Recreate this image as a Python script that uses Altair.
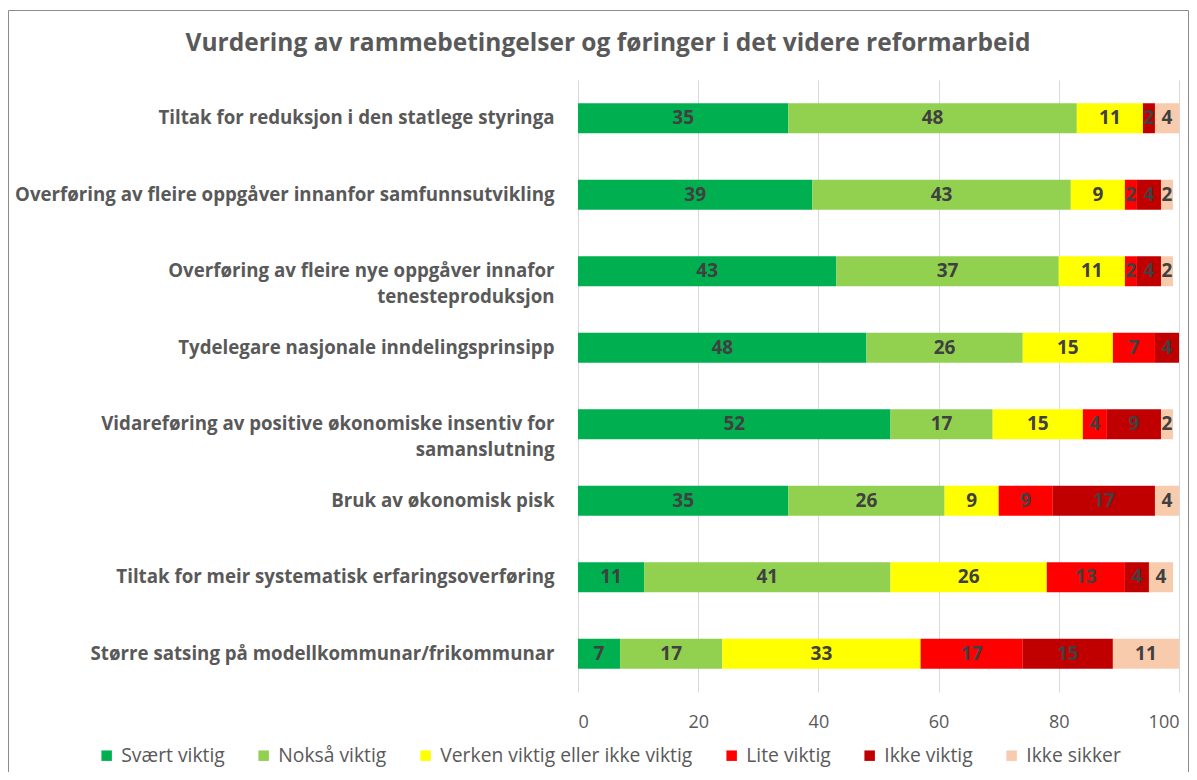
import altair as alt
import pandas as pd

categories = [
    "Tiltak for reduksjon i den statlege styringa",
    "Overføring av fleire oppgåver innanfor samfunnsutvikling",
    "Overføring av fleire nye oppgåver innafor|tenesteproduksjon",
    "Tydelegare nasjonale inndelingsprinsipp",
    "Vidareføring av positive økonomiske insentiv for|samanslutning",
    "Bruk av økonomisk pisk",
    "Tiltak for meir systematisk erfaringsoverføring",
    "Større satsing på modellkommunar/frikommunar",
]
series_names = ["Svært viktig", "Nokså viktig", "Verken viktig eller ikke viktig",
                "Lite viktig", "Ikke viktig", "Ikke sikker"]
svaert_viktig = [35, 39, 43, 48, 52, 35, 11, 7]
noksa_viktig = [48, 43, 37, 26, 17, 26, 41, 17]
verken = [11, 9, 11, 15, 15, 9, 26, 33]
lite_viktig = [0, 2, 2, 7, 4, 9, 13, 17]
ikke_viktig = [2, 4, 4, 4, 9, 17, 4, 15]
ikke_sikker = [4, 2, 2, 0, 2, 4, 4, 11]
colors = ["#00B050", "#92D050", "#FFFF00", "#FF0000", "#C00000", "#F8CBAD"]
x_ticks = [0, 20, 40, 60, 80, 100]
title = "Vurdering av rammebetingelser og føringer i det videre reformarbeid"

all_series = [svaert_viktig, noksa_viktig, verken, lite_viktig, ikke_viktig, ikke_sikker]
rows = []
for si, (name, vals) in enumerate(zip(series_names, all_series)):
    for cat, v in zip(categories, vals):
        rows.append({"cat": cat, "series": name, "value": v, "idx": si})
df = pd.DataFrame(rows)

FONT = "Open Sans"
GRAY = "#595959"

y_enc = alt.Y(
    "cat:N", sort=categories, title=None,
    scale=alt.Scale(paddingInner=0.608, paddingOuter=0.304),
    axis=alt.Axis(labelExpr="split(datum.label, '|')", labelFontWeight="bold",
                  labelFontSize=18.7, labelColor=GRAY, labelFont=FONT, labelLimit=700,
                  labelPadding=24, labelLineHeight=26, ticks=False, domain=False,
                  grid=False, labelAlign="right"),
)
x_scale = alt.Scale(domain=[0, 100], nice=False)

bars = alt.Chart(df).mark_bar().encode(
    y=y_enc,
    x=alt.X("value:Q", stack="zero", scale=x_scale, title=None,
            axis=alt.Axis(values=x_ticks, grid=True, gridColor="#D9D9D9", domain=False,
                          ticks=False, labelFontSize=18, labelColor=GRAY, labelFont=FONT,
                          labelPadding=21)),
    color=alt.Color("series:N", sort=series_names,
                    scale=alt.Scale(domain=series_names, range=colors),
                    legend=alt.Legend(orient="none", legendX=-481, legendY=666,
                                      direction="horizontal", columns=6, title=None,
                                      symbolType="square", symbolSize=110,
                                      symbolStrokeWidth=0, labelFontSize=19.3,
                                      labelColor=GRAY, labelFont=FONT, labelOffset=5,
                                      columnPadding=29, padding=0, labelLimit=400)),
    order=alt.Order("idx:Q"),
)

labels = alt.Chart(df).transform_stack(
    stack="value", groupby=["cat"], as_=["x0", "x1"], sort=[alt.SortField("idx")]
).transform_calculate(
    mid="(datum.x0 + datum.x1) / 2"
).transform_filter("datum.value > 0").mark_text(
    font=FONT, fontSize=19, fontWeight="bold", color="#404040"
).encode(
    y=alt.Y("cat:N", sort=categories),
    x=alt.X("mid:Q", scale=x_scale),
    text=alt.Text("value:Q"),
)

frame = alt.Chart(pd.DataFrame({"a": [0]})).mark_rect(
    fillOpacity=0, stroke="#8C8C8C", strokeWidth=1
).encode(
    x=alt.value(-569.5), x2=alt.value(610.5), y=alt.value(-69.5), y2=alt.value(700)
)

title_mark = alt.Chart(pd.DataFrame({"t": [title]})).mark_text(
    font=FONT, fontSize=24.5, fontWeight="bold", color=GRAY, align="center",
    baseline="alphabetic"
).encode(
    x=alt.value(30), y=alt.value(-29), text="t:N"
)

chart = alt.layer(frame, title_mark, bars, labels).properties(
    width=601, height=612,
    autosize=alt.AutoSizeParams(type="none"),
    padding={"left": 570, "top": 72, "right": 10, "bottom": 80},
).configure_view(stroke=None)

chart.save("out.html", embed_options={"renderer": "svg", "actions": False})
